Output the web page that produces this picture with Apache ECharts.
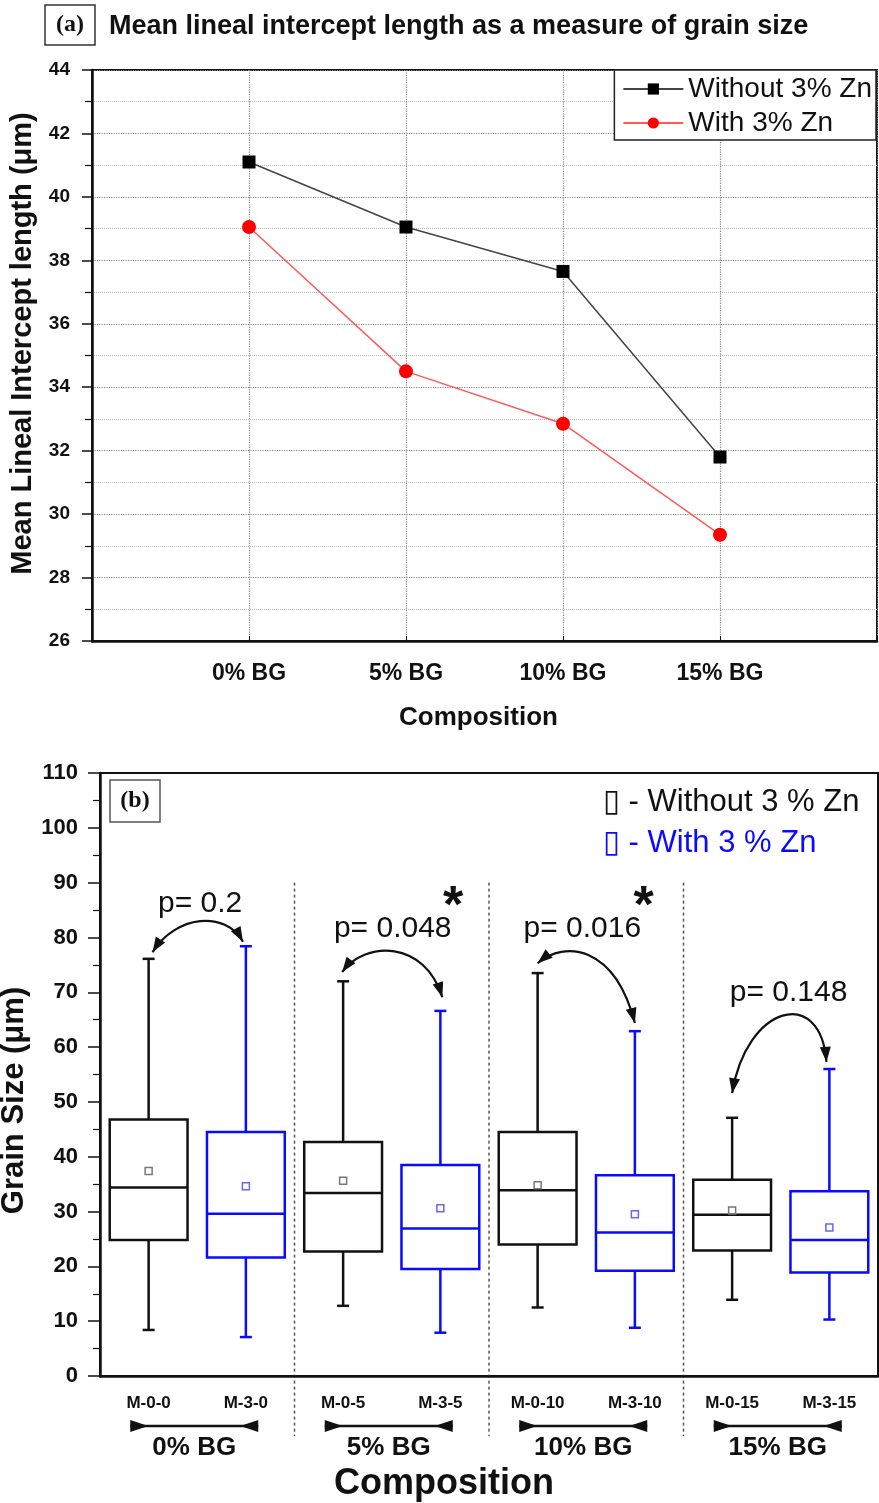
<!DOCTYPE html>
<html>
<head>
<meta charset="utf-8">
<script src="https://cdn.jsdelivr.net/npm/echarts@6/dist/echarts.min.js"></script>
<style>
html, body { margin: 0; padding: 0; background: #fff; }
#chart { width: 879px; height: 1503px; }
</style>
</head>
<body>
<div id="chart"></div>
<script>
// (a) mean lineal intercept length
const compositions = ['0% BG', '5% BG', '10% BG', '15% BG'];
const withoutZn = [41.1, 39.05, 37.65, 31.8];
const withZn = [39.05, 34.5, 32.85, 29.35];

// (b) grain size box plots: [min, Q1, median, Q3, max]
const samples = ['M-0-0', 'M-3-0', 'M-0-5', 'M-3-5', 'M-0-10', 'M-3-10', 'M-0-15', 'M-3-15'];
const boxWithout = [[8.4, 24.8, 34.4, 46.8, 76.1], [12.8, 22.7, 33.4, 42.7, 72.0], [12.5, 24.0, 33.9, 44.5, 73.5], [13.9, 22.9, 29.4, 35.8, 47.1]];
const boxWith = [[7.1, 21.6, 29.6, 44.5, 78.4], [7.9, 19.5, 26.9, 38.5, 66.6], [8.8, 19.2, 26.2, 36.6, 62.9], [10.3, 18.9, 24.8, 33.7, 56.0]];
const meanWithout = [37.4, 35.6, 34.8, 30.2];
const meanWith = [34.6, 30.6, 29.5, 27.1];
const groups = ['0% BG', '5% BG', '10% BG', '15% BG'];
const pValues = ['p= 0.2', 'p= 0.048', 'p= 0.016', 'p= 0.148'];

// annotation placement in (sample index, grain size) space
const pLabelPos = [[0.53, 86.1], [2.51, 81.5], [4.46, 81.5], [6.58, 70.0]];
// start, control 1, control 2, end
const pArcs = [
    [[0.04, 77.3], [0.28, 84.1], [0.79, 85.0], [0.97, 79.2]],
    [[1.99, 73.7], [2.23, 79.5], [2.84, 79.5], [3.02, 69.1]],
    [[4.0, 75.3], [4.28, 79.5], [4.79, 78.6], [5.0, 64.4]],
    [[6.0, 51.6], [6.15, 67.7], [6.91, 71.3], [6.97, 57.3]]
];
const starPos = [[3.13, 85.4], [5.09, 85.4]];

const FONT = '"Liberation Sans", Arial, sans-serif';
const chart = echarts.init(document.getElementById('chart'));

const boxRender = (color, meanColor) => (params, api) => {
    const i = api.value(0);
    const x = api.coord([i, 0])[0];
    const w = api.size([1, 0])[0] * 0.8;
    const py = k => api.coord([i, api.value(k)])[1];
    const [yMin, yQ1, yMed, yQ3, yMax, yMean] = [1, 2, 3, 4, 5, 6].map(py);
    const st = { stroke: color, lineWidth: 2.5, fill: null };
    const ln = (x1, y1, x2, y2) => ({ type: 'line', shape: { x1, y1, x2, y2 }, style: st });
    const cap = 6;
    return {
        type: 'group',
        children: [
            { type: 'rect', shape: { x: x - w / 2, y: yQ3, width: w, height: yQ1 - yQ3 }, style: st },
            ln(x - w / 2, yMed, x + w / 2, yMed),
            ln(x, yQ3, x, yMax),
            ln(x, yQ1, x, yMin),
            ln(x - cap, yMax, x + cap, yMax),
            ln(x - cap, yMin, x + cap, yMin),
            { type: 'rect', shape: { x: x - 3.5, y: yMean - 3.5, width: 7, height: 7 }, style: { stroke: meanColor, lineWidth: 1.5, fill: null } }
        ]
    };
};

const boldLabel = (size) => ({ fontSize: size, fontWeight: 'bold', color: '#111', fontFamily: FONT });

chart.setOption({
    animation: false,
    textStyle: { fontFamily: FONT },
    title: {
        text: 'Mean lineal intercept length as a measure of grain size',
        left: 104, top: 8,
        textStyle: { fontSize: 27, fontWeight: 'bold', color: '#111', fontFamily: FONT }
    },
    legend: {
        orient: 'vertical', right: 3, top: 70,
        itemWidth: 60, itemHeight: 14, itemGap: 6,
        padding: [5, 4, 3, 8],
        borderColor: '#222', borderWidth: 1.5, backgroundColor: '#fff',
        textStyle: { fontSize: 28, color: '#111', fontFamily: FONT },
        data: ['Without 3% Zn', 'With 3% Zn']
    },
    grid: [
        { left: 92, top: 70, width: 785, height: 571, outerBoundsMode: 'none', show: true, borderColor: '#111', borderWidth: 2 },
        { left: 100, top: 773, width: 778, height: 603, outerBoundsMode: 'none', show: true, borderColor: '#111', borderWidth: 2 }
    ],
    xAxis: [
        {
            type: 'value', gridIndex: 0, min: 0, max: 5, interval: 1,
            axisLine: { lineStyle: { color: '#111', width: 2.5 } },
            axisTick: { inside: true, length: 5, lineStyle: { color: '#111' } },
            axisLabel: { ...boldLabel(23), margin: 21, formatter: v => compositions[v - 1] || '' },
            splitLine: { show: true, lineStyle: { color: '#888', type: 'dotted', width: 1.2 } },
            name: 'Composition', nameLocation: 'middle', nameGap: 64,
            nameTextStyle: { ...boldLabel(26), padding: [0, 12, 0, 0] }
        },
        {
            type: 'category', gridIndex: 1, data: samples,
            axisLine: { lineStyle: { color: '#111', width: 2.5 } },
            axisTick: { alignWithLabel: true, length: 9, lineStyle: { color: '#111', width: 2 } },
            axisLabel: { ...boldLabel(17), margin: 19 }
        }
    ],
    yAxis: [
        {
            type: 'value', gridIndex: 0, min: 26, max: 44, interval: 2,
            axisLine: { show: true, lineStyle: { color: '#111', width: 2.5 } },
            axisTick: { show: true, length: 10, lineStyle: { color: '#111', width: 1.5 } },
            minorTick: { show: true, splitNumber: 2, length: 7, lineStyle: { color: '#111', width: 1.2 } },
            axisLabel: { ...boldLabel(19), margin: 22 },
            splitLine: { show: true, lineStyle: { color: '#888', type: 'dotted', width: 1.2 } },
            minorSplitLine: { show: true, lineStyle: { color: '#bbb', type: 'dotted', width: 1 } },
            name: 'Mean Lineal Intercept length (\u03bcm)', nameLocation: 'middle', nameGap: 55,
            nameTextStyle: { ...boldLabel(29), padding: [0, 0, 0, 24] }
        },
        {
            type: 'value', gridIndex: 1, min: 0, max: 110, interval: 10,
            axisLine: { show: true, lineStyle: { color: '#111', width: 2.5 } },
            axisTick: { show: true, length: 12, lineStyle: { color: '#111', width: 1.5 } },
            minorTick: { show: true, splitNumber: 2, length: 7, lineStyle: { color: '#111', width: 1.2 } },
            axisLabel: { ...boldLabel(22), margin: 22 },
            splitLine: { show: false },
            name: 'Grain Size (\u03bcm)', nameLocation: 'middle', nameGap: 70,
            nameTextStyle: { ...boldLabel(31), padding: [0, 52, 0, 0] }
        }
    ],
    series: [
        {
            name: 'Without 3% Zn', type: 'line', xAxisIndex: 0, yAxisIndex: 0,
            data: withoutZn.map((v, i) => [i + 1, v]),
            symbol: 'rect', symbolSize: 13,
            lineStyle: { color: '#444', width: 1.5 },
            itemStyle: { color: '#000' }
        },
        {
            name: 'With 3% Zn', type: 'line', xAxisIndex: 0, yAxisIndex: 0,
            data: withZn.map((v, i) => [i + 1, v]),
            symbol: 'circle', symbolSize: 14,
            lineStyle: { color: '#ff5a5a', width: 1.5 },
            itemStyle: { color: '#ff0000' }
        },
        {
            type: 'custom', xAxisIndex: 1, yAxisIndex: 1,
            renderItem: boxRender('#111', '#777'),
            encode: { x: 0, y: [1, 2, 3, 4, 5] },
            data: boxWithout.map((b, k) => [2 * k, ...b, meanWithout[k]])
        },
        {
            type: 'custom', xAxisIndex: 1, yAxisIndex: 1,
            renderItem: boxRender('#0a0aff', '#6666ff'),
            encode: { x: 0, y: [1, 2, 3, 4, 5] },
            data: boxWith.map((b, k) => [2 * k + 1, ...b, meanWith[k]])
        }
    ]
});

// 注释层：用坐标转换把样本序号/数值换成像素
const p0 = chart.convertToPixel({ gridIndex: 1 }, [0, 0]);
const p1 = chart.convertToPixel({ gridIndex: 1 }, [1, 0]);
const step = p1[0] - p0[0];
const px = (i, v) => [p0[0] + i * step, chart.convertToPixel({ gridIndex: 1 }, [0, v])[1]];
const axisY = p0[1];

const text = (str, x, y, font, fill, align) => ({
    type: 'text', x, y, silent: true,
    style: { text: str, font, fill: fill || '#111', align: align || 'center', verticalAlign: 'middle' }
});
const arrowHead = (tip, from, len, half) => {
    const dx = tip[0] - from[0], dy = tip[1] - from[1];
    const d = Math.hypot(dx, dy) || 1;
    const ux = dx / d, uy = dy / d;
    const bx = tip[0] - ux * len, by = tip[1] - uy * len;
    return {
        type: 'polygon', silent: true,
        shape: { points: [tip, [bx - uy * half, by + ux * half], [bx + uy * half, by - ux * half]] },
        style: { fill: '#111' }
    };
};

const graphics = [];

// panel tags
graphics.push({ type: 'rect', shape: { x: 45, y: 5, width: 50, height: 40 }, style: { stroke: '#333', lineWidth: 1.5, fill: '#fff' } });
graphics.push(text('(a)', 70, 25, 'bold 24px "Liberation Serif", serif'));
graphics.push({ type: 'rect', shape: { x: 110, y: 780, width: 50, height: 42 }, style: { stroke: '#555', lineWidth: 1.5, fill: '#fff' } });
graphics.push(text('(b)', 135, 801, 'bold 24px "Liberation Serif", serif'));

// legend of (b)
graphics.push(text('\u25af - Without 3 % Zn', 603, 802, '31px ' + FONT, '#111', 'left'));
graphics.push(text('\u25af - With 3 % Zn', 603, 843, '31px ' + FONT, '#0a0aff', 'left'));

// group separators
[1.5, 3.5, 5.5].forEach(i => {
    const top = px(i, 90);
    graphics.push({
        type: 'line', silent: true,
        shape: { x1: top[0], y1: top[1], x2: top[0], y2: axisY + 60 },
        style: { stroke: '#555', lineWidth: 1.5, lineDash: [3, 3] }
    });
});

// p values and curved arrows
pValues.forEach((t, k) => {
    const pos = px(...pLabelPos[k]);
    graphics.push(text(t, pos[0], pos[1], '30px ' + FONT));
    const [S, C1, C2, E] = pArcs[k].map(a => px(...a));
    graphics.push({
        type: 'bezierCurve', silent: true,
        shape: { x1: S[0], y1: S[1], x2: E[0], y2: E[1], cpx1: C1[0], cpy1: C1[1], cpx2: C2[0], cpy2: C2[1] },
        style: { stroke: '#111', lineWidth: 2.2, fill: null }
    });
    graphics.push(arrowHead(S, C1, 15, 5.5));
    graphics.push(arrowHead(E, C2, 15, 5.5));
});
starPos.forEach(s => {
    const pos = px(...s);
    graphics.push(text('*', pos[0], pos[1], 'bold 52px ' + FONT));
});

// composition brackets under the sample labels
groups.forEach((g, k) => {
    const c = p0[0] + (2 * k + 0.5) * step - 3;
    const xl = c - 64, xr = c + 64, y = axisY + 50;
    graphics.push({ type: 'line', silent: true, shape: { x1: xl, y1: y, x2: xr, y2: y }, style: { stroke: '#111', lineWidth: 2.5 } });
    graphics.push({ type: 'polygon', silent: true, shape: { points: [[xl, y - 6], [xl, y + 6], [xl + 18, y]] }, style: { fill: '#111' } });
    graphics.push({ type: 'polygon', silent: true, shape: { points: [[xr, y - 6], [xr, y + 6], [xr - 18, y]] }, style: { fill: '#111' } });
    graphics.push(text(g, c, axisY + 72, 'bold 26px ' + FONT));
});

// x-axis title of (b), centred under the sample labels as in the figure
graphics.push(text('Composition', 444, axisY + 108, 'bold 36px ' + FONT));

chart.setOption({ graphic: graphics });
</script>
</body>
</html>
